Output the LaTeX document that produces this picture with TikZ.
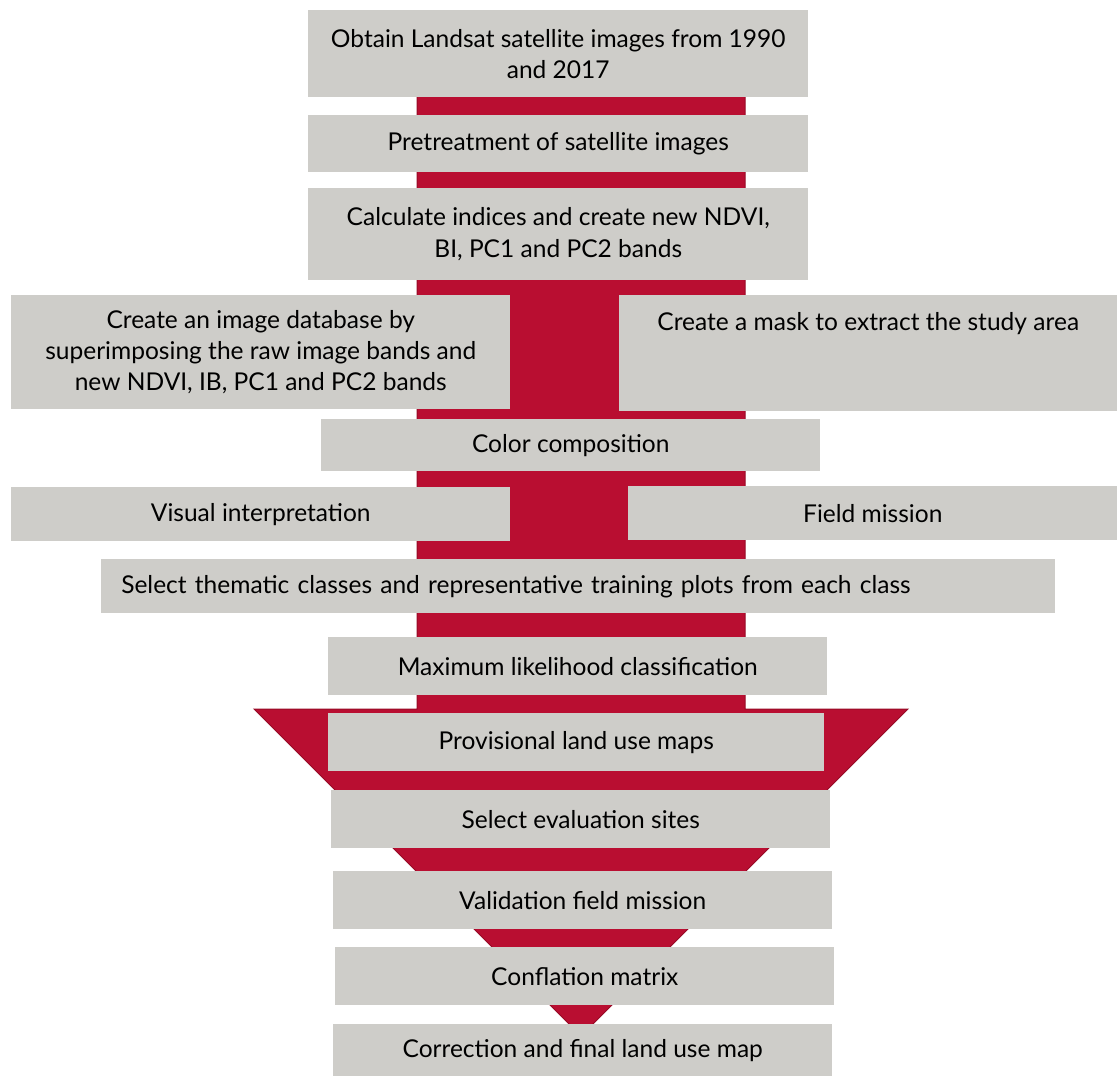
\documentclass[tikz,border=0pt]{standalone}
\usepackage{fontspec}
\setmainfont{Lato}
\definecolor{arrowred}{RGB}{185,14,49}
\definecolor{arrowedge}{RGB}{150,10,38}
\definecolor{boxgray}{RGB}{206,205,201}
\begin{document}
\begin{tikzpicture}[x=0.75pt,y=-0.75pt,
  box/.style={fill=boxgray, draw=none, inner sep=0pt, align=center,
    font=\fontsize{18.4}{23.5}\selectfont, text=black, anchor=north west},
  bigarrow/.style={fill=arrowred, draw=arrowedge, line width=0.75pt, line join=miter}]
\useasboundingbox (0,0) rectangle (1117,1076);
% big downward arrow
\draw[bigarrow] (417,60) -- (745,60) -- (745,709) -- (908,709) -- (581,1036)
  -- (254,709) -- (417,709) -- cycle;
% boxes
\node[box, minimum width=375pt, minimum height=65.25pt] (obtain) at (308,10)
  {Obtain Landsat satellite images from 1990\\and 2017};
\node[box, minimum width=375pt, minimum height=42.75pt] (pretreat) at (308,115)
  {Pretreatment of satellite images};
\node[box, minimum width=375pt, minimum height=69pt] (indices) at (308,188)
  {Calculate indices and create new NDVI,\\BI, PC1 and PC2 bands};
\node[box, minimum width=374.25pt, minimum height=85.5pt] (database) at (11,295)
  {Create an image database by\\superimposing the raw image bands and\\new NDVI, IB, PC1 and PC2 bands};
\node[box, minimum width=373.5pt, minimum height=87pt] (mask) at (619,295)
  {Create a mask to extract the study area\\ ~\\ ~};
\node[box, minimum width=374.25pt, minimum height=39pt] (color) at (321,419)
  {Color composition};
\node[box, minimum width=374.25pt, minimum height=40.5pt] (visual) at (11,487)
  {Visual interpretation};
\node[box, minimum width=366.75pt, minimum height=40.5pt] (field) at (628,486)
  {Field mission};
\node[box, minimum width=715.5pt, minimum height=40.5pt, inner xsep=15pt,
  align=left, text width=685.5pt] (select) at (101,559)
  {Select thematic classes and representative training plots from each class};
\node[box, minimum width=374.25pt, minimum height=43.5pt] (maxlik) at (328,637)
  {Maximum likelihood classification};
\node[box, minimum width=372pt, minimum height=43.5pt] (provisional) at (328,713)
  {Provisional land use maps};
\node[box, minimum width=374.25pt, minimum height=43.5pt] (evalsites) at (331,790)
  {Select evaluation sites};
\node[box, minimum width=374.25pt, minimum height=43.5pt] (validation) at (333,871)
  {Validation field mission};
\node[box, minimum width=374.25pt, minimum height=43.5pt] (conflation) at (335,947)
  {Conflation matrix};
\node[box, minimum width=374.25pt, minimum height=39pt] (final) at (333,1024)
  {Correction and final land use map};
\end{tikzpicture}
\end{document}
